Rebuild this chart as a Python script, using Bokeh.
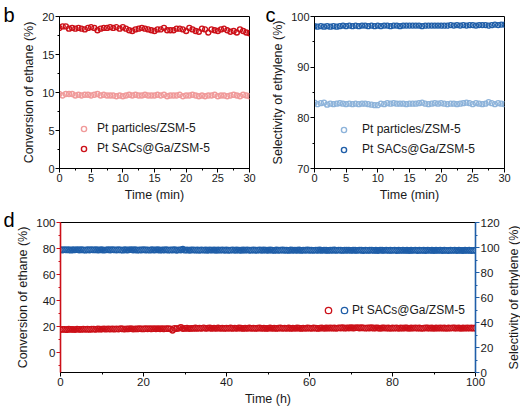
import numpy as np
from bokeh.plotting import figure
from bokeh.models import (Range1d, LinearAxis, SingleIntervalTicker, FixedTicker,
                          Legend, LegendItem)
from bokeh.layouts import column, row
from bokeh.embed import file_html
from bokeh.resources import INLINE

FONT = "Liberation Sans"

# ---------------- data ----------------
time_min = np.arange(0, 30.01, 0.5)          # sampling times (min), panels b/c
time_h = np.arange(0, 100.01, 0.5)           # sampling times (h), panel d

conv_pt_particles = [
    9.8, 9.6, 9.8, 9.8, 9.8, 9.6, 9.7, 9.6, 9.7, 9.7,
    9.6, 9.7, 9.8, 9.6, 9.7, 9.6, 9.6, 9.6, 9.5, 9.6,
    9.5, 9.6, 9.7, 9.6, 9.7, 9.6, 9.6, 9.7, 9.6, 9.6,
    9.6, 9.7, 9.6, 9.7, 9.5, 9.6, 9.6, 9.6, 9.7, 9.5,
    9.6, 9.6, 9.7, 9.6, 9.5, 9.6, 9.5, 9.6, 9.6, 9.7,
    9.5, 9.6, 9.6, 9.5, 9.6, 9.7, 9.6, 9.5, 9.7, 9.6,
    9.5]
conv_pt_sacs = [
    18.5, 18.7, 18.7, 18.4, 18.5, 18.4, 18.5, 18.4, 18.3, 18.5,
    18.6, 18.5, 18.2, 18.4, 18.5, 18.5, 18.6, 18.5, 18.6, 18.4,
    18.6, 18.4, 18.2, 18.1, 18.3, 18.4, 18.5, 18.4, 18.3, 18.2,
    18.1, 18.3, 18.3, 18.5, 18.2, 18.2, 18.2, 18.4, 18.4, 18.3,
    18.1, 18.5, 18.3, 18.1, 18.0, 18.4, 18.3, 17.9, 18.3, 18.2,
    18.1, 18.3, 18.4, 18.2, 18.0, 18.1, 17.9, 18.3, 18.1, 17.9,
    17.8]
sel_pt_particles = [
    83.0, 82.7, 82.9, 83.0, 82.6, 82.8, 82.7, 82.8, 82.9, 82.8,
    82.7, 82.8, 82.7, 82.8, 82.7, 82.8, 82.8, 82.7, 82.6, 82.5,
    82.5, 82.8, 82.7, 82.9, 82.8, 82.9, 82.8, 82.8, 82.8, 82.7,
    82.8, 82.8, 82.8, 82.9, 83.0, 82.8, 82.7, 82.8, 82.9, 82.8,
    82.9, 82.8, 82.7, 82.8, 82.8, 82.7, 82.8, 82.9, 83.0, 82.9,
    82.7, 82.9, 82.8, 82.7, 82.8, 83.1, 82.9, 82.7, 82.9, 82.8,
    82.7]
sel_pt_sacs = [
    98.1, 98.0, 98.1, 98.0, 98.1, 98.0, 98.1, 98.0, 98.1, 98.2,
    98.1, 98.2, 98.1, 98.2, 98.1, 98.2, 98.2, 98.1, 98.2, 98.1,
    98.2, 98.1, 98.2, 98.2, 98.1, 98.2, 98.2, 98.1, 98.2, 98.2,
    98.2, 98.2, 98.2, 98.2, 98.1, 98.2, 98.2, 98.2, 98.2, 98.2,
    98.2, 98.2, 98.2, 98.3, 98.2, 98.3, 98.2, 98.3, 98.2, 98.3,
    98.3, 98.2, 98.3, 98.3, 98.3, 98.2, 98.3, 98.4, 98.3, 98.4,
    98.4]

conv_long = [
    17.9, 18.1, 18.0, 17.8, 18.2, 18.0, 18.1, 17.9, 18.2, 18.1, 18.0, 18.3, 18.1, 18.2, 18.0, 18.3, 18.2, 18.1, 18.4, 18.2,
    18.3, 18.5, 18.2, 18.4, 18.3, 18.5, 18.2, 18.4, 18.3, 18.6, 18.4, 18.3, 18.5, 18.4, 18.6, 18.3, 18.5, 18.4, 18.6, 18.5,
    18.4, 18.6, 18.5, 18.7, 18.4, 18.6, 18.5, 18.7, 18.5, 18.6, 18.4, 18.6, 18.7, 18.5, 17.4, 18.8, 18.6, 18.9, 19.5, 18.7,
    18.8, 19.0, 18.7, 18.9, 18.8, 19.1, 18.8, 19.0, 18.9, 19.2, 18.9, 19.0, 19.1, 18.8, 19.0, 18.9, 19.1, 18.9, 19.0, 18.8,
    19.0, 18.9, 19.1, 18.8, 19.0, 18.9, 19.1, 19.0, 18.8, 19.0, 18.9, 19.1, 18.9, 19.0, 18.8, 19.0, 19.1, 18.9, 19.0, 18.8,
    18.9, 19.1, 18.9, 19.0, 18.8, 19.0, 19.1, 18.9, 19.0, 18.9, 19.1, 18.8, 19.0, 18.9, 19.1, 19.0, 18.8, 19.0, 18.9, 19.1,
    19.0, 18.9, 19.1, 19.0, 18.8, 19.0, 19.2, 18.9, 19.1, 19.0, 19.2, 19.0, 19.1, 18.9, 19.2, 19.1, 19.3, 19.0, 19.2, 19.1,
    19.3, 19.1, 19.2, 19.4, 19.1, 19.3, 19.2, 19.0, 19.2, 19.1, 19.3, 19.0, 19.2, 19.1, 18.9, 19.1, 19.2, 19.0, 19.1, 18.9,
    19.1, 19.0, 19.2, 18.9, 19.1, 19.0, 19.2, 19.1, 18.9, 19.1, 19.0, 19.2, 19.0, 19.1, 18.9, 19.0, 19.2, 19.1, 19.0, 19.1,
    18.9, 19.1, 19.0, 19.2, 19.0, 19.1, 18.9, 19.1, 19.0, 19.2, 19.1, 19.0, 19.1, 18.9, 19.1, 19.0, 19.2, 19.0, 19.1, 19.0,
    19.1]
sel_long = [
    98.2, 98.0, 98.3, 98.1, 98.2, 97.9, 98.2, 98.1, 98.3, 98.0, 98.2, 98.1, 97.9, 98.2, 98.0, 98.3, 98.1, 98.2, 98.0, 98.1,
    98.2, 97.9, 98.1, 98.2, 98.0, 98.3, 98.1, 98.0, 98.2, 98.1, 97.9, 98.2, 98.0, 98.1, 98.3, 98.0, 98.2, 97.9, 98.1, 98.0,
    98.2, 98.0, 98.1, 97.9, 98.2, 98.0, 98.1, 98.2, 97.9, 98.1, 98.0, 98.2, 97.9, 98.1, 98.0, 98.2, 97.8, 98.1, 98.0, 98.7,
    97.9, 98.1, 97.8, 98.0, 98.1, 97.9, 98.0, 97.8, 98.1, 97.9, 98.0, 97.8, 98.1, 97.9, 98.0, 97.8, 98.0, 97.9, 98.1, 97.8,
    98.0, 97.8, 97.9, 98.1, 97.8, 98.0, 97.9, 97.8, 98.0, 97.9, 98.1, 97.8, 97.9, 98.0, 97.8, 97.9, 98.1, 97.8, 98.0, 97.9,
    97.8, 98.0, 97.9, 97.7, 98.0, 97.8, 97.9, 98.0, 97.8, 97.9, 97.7, 98.0, 97.8, 97.9, 97.8, 98.0, 97.7, 97.9, 97.8, 98.0,
    97.8, 97.9, 97.7, 97.9, 97.8, 98.0, 97.7, 97.9, 97.8, 97.7, 97.9, 97.8, 98.0, 97.7, 97.9, 97.8, 97.7, 97.9, 97.8, 97.9,
    97.7, 97.9, 97.8, 97.7, 97.9, 97.8, 97.6, 97.9, 97.7, 97.8, 97.9, 97.7, 97.8, 97.6, 97.9, 97.8, 97.7, 97.9, 97.7, 97.8,
    97.7, 97.9, 97.6, 97.8, 97.7, 97.9, 97.7, 97.8, 97.6, 97.8, 97.7, 97.9, 97.6, 97.8, 97.7, 97.8, 97.6, 97.9, 97.7, 97.8,
    97.6, 97.8, 97.7, 97.9, 97.6, 97.8, 97.7, 97.6, 97.8, 97.7, 97.9, 97.6, 97.8, 97.7, 97.6, 97.8, 97.7, 97.8, 97.6, 97.7,
    97.8]

panel_letters = ["b", "c", "d"]
legend_labels = ["Pt particles/ZSM-5", "Pt SACs@Ga/ZSM-5"]

# colours
PINK = "#F09A9A"
RED = "#CC1018"
LBLUE = "#8DB3DA"
DBLUE = "#1F5EA8"
TXT = "#1a1a1a"


def style_axis(ax, interval, line_color="black", tick_size="11px"):
    ax.ticker = SingleIntervalTicker(interval=interval, num_minor_ticks=2)
    ax.major_label_text_font = FONT
    ax.major_label_text_font_size = tick_size
    ax.major_label_text_color = TXT
    ax.axis_label_text_font = FONT
    ax.axis_label_text_font_size = "12.5px"
    ax.axis_label_text_font_style = "normal"
    ax.axis_label_text_color = TXT
    ax.major_tick_in = 0
    ax.major_tick_out = 4
    ax.minor_tick_in = 0
    ax.minor_tick_out = 2
    ax.major_label_standoff = 1
    ax.axis_label_standoff = 3
    ax.axis_line_color = line_color
    ax.major_tick_line_color = line_color
    ax.minor_tick_line_color = line_color


def base_fig(width, height, xr, yr, ml, mr, mt, mb, letter, standoff):
    p = figure(width=width, height=height, x_range=xr, y_range=yr,
               output_backend="svg", toolbar_location=None,
               min_border_left=ml, min_border_right=mr,
               min_border_top=mt, min_border_bottom=mb)
    p.xgrid.visible = False
    p.ygrid.visible = False
    p.outline_line_color = "black"
    p.outline_line_width = 1
    p.background_fill_color = "white"
    p.border_fill_color = "white"
    # panel letter drawn as the plot title, pulled over the left border
    p.title.text = letter
    p.title.align = "left"
    p.title.offset = -(ml - 3)
    p.title.standoff = standoff
    p.title.text_font = FONT
    p.title.text_font_size = "20px"
    p.title.text_font_style = "normal"
    p.title.text_color = "black"
    return p


def make_legend(items, loc, standoff):
    return Legend(items=items, location=loc, orientation="vertical",
                  border_line_color=None, background_fill_alpha=0,
                  padding=0, margin=0, spacing=4, glyph_height=13,
                  glyph_width=13, label_height=16, label_standoff=standoff,
                  label_text_font=FONT, label_text_font_size="12px",
                  label_text_color=TXT)


# ---------------- panel b ----------------
pb = base_fig(262, 204, Range1d(0, 30), Range1d(0, 20), 59, 13, 16, 34,
              panel_letters[0], -18)
rb1 = pb.scatter(time_min, conv_pt_particles, marker="circle", size=5,
                 fill_color=None, line_color=PINK, line_width=1.4)
rb2 = pb.scatter(time_min, conv_pt_sacs, marker="circle", size=5,
                 fill_color=None, line_color=RED, line_width=1.4)
style_axis(pb.xaxis[0], 5)
style_axis(pb.yaxis[0], 5)
pb.xaxis.axis_label = "Time (min)"
pb.yaxis.axis_label = "Conversion of ethane (%)"
pb.add_layout(make_legend([LegendItem(label=legend_labels[0], renderers=[rb1]),
                           LegendItem(label=legend_labels[1], renderers=[rb2])],
                          (18, 12), 7))

# ---------------- panel c ----------------
pc = base_fig(258, 204, Range1d(0, 30), Range1d(70, 100), 52, 16, 16, 34,
              panel_letters[1], -18)
rc1 = pc.scatter(time_min, sel_pt_particles, marker="circle", size=5,
                 fill_color=None, line_color=LBLUE, line_width=1.4)
rc2 = pc.scatter(time_min, sel_pt_sacs, marker="circle", size=5,
                 fill_color=None, line_color=DBLUE, line_width=1.4)
style_axis(pc.xaxis[0], 5)
style_axis(pc.yaxis[0], 10)
pc.xaxis.axis_label = "Time (min)"
pc.yaxis.axis_label = "Selectivity of ethylene (%)"
pc.add_layout(make_legend([LegendItem(label=legend_labels[0], renderers=[rc1]),
                           LegendItem(label=legend_labels[1], renderers=[rc2])],
                          (23, 11), 12))

# ---------------- panel d ----------------
pd_ = base_fig(503, 206, Range1d(0, 100), Range1d(-15, 100), 60, 28, 18, 38,
               panel_letters[2], -16)
pd_.extra_y_ranges = {"sel": Range1d(0, 120)}
rd1 = pd_.scatter(time_h, conv_long, marker="circle", size=5.5,
                  fill_color=None, line_color=RED, line_width=1.3)
rd2 = pd_.scatter(time_h, sel_long, marker="circle", size=5.5,
                  fill_color=None, line_color=DBLUE, line_width=1.3,
                  y_range_name="sel")
style_axis(pd_.xaxis[0], 20, tick_size="11.5px")
style_axis(pd_.yaxis[0], 20, line_color=RED, tick_size="11.5px")
pd_.yaxis[0].axis_line_width = 1.6
pd_.xaxis.axis_label = "Time (h)"
pd_.yaxis[0].axis_label = "Conversion of ethane (%)"
rax = LinearAxis(y_range_name="sel")
style_axis(rax, 20, line_color=DBLUE, tick_size="11.5px")
rax.axis_line_width = 1.6
pd_.add_layout(rax, "right")
pd_.add_layout(Legend(items=[LegendItem(label="", renderers=[rd1]),
                             LegendItem(label=legend_labels[1], renderers=[rd2])],
                      location=(260, 54), orientation="horizontal",
                      border_line_color=None, background_fill_alpha=0,
                      padding=0, margin=0, spacing=0, glyph_height=16,
                      glyph_width=16, label_height=16, label_width=0,
                      label_standoff=0, label_text_font=FONT,
                      label_text_font_size="12px", label_text_color=TXT))

# right-hand axis title of panel d, read bottom-to-top like the reference:
# drawn as the (left) axis label of a slim companion figure of equal height
pr = figure(width=17, height=206, x_range=Range1d(0, 1), y_range=Range1d(0, 120),
            output_backend="svg", toolbar_location=None, x_axis_location=None,
            min_border_left=15, min_border_right=0, min_border_top=18,
            min_border_bottom=38)
pr.xgrid.visible = False
pr.ygrid.visible = False
pr.outline_line_color = None
pr.background_fill_color = "white"
pr.border_fill_color = "white"
lax = pr.yaxis[0]
lax.ticker = FixedTicker(ticks=[])
lax.axis_line_color = None
lax.major_tick_out = 0
lax.major_tick_in = 0
lax.minor_tick_out = 0
lax.minor_tick_in = 0
lax.major_label_standoff = 0
lax.axis_label_standoff = 0
lax.axis_label = "Selectivity of ethylene (%)"
lax.axis_label_text_font = FONT
lax.axis_label_text_font_size = "12.5px"
lax.axis_label_text_font_style = "normal"
lax.axis_label_text_color = TXT

layout = column(row(pb, pc), row(pd_, pr))
open("out.html", "w").write(file_html(layout, INLINE))
